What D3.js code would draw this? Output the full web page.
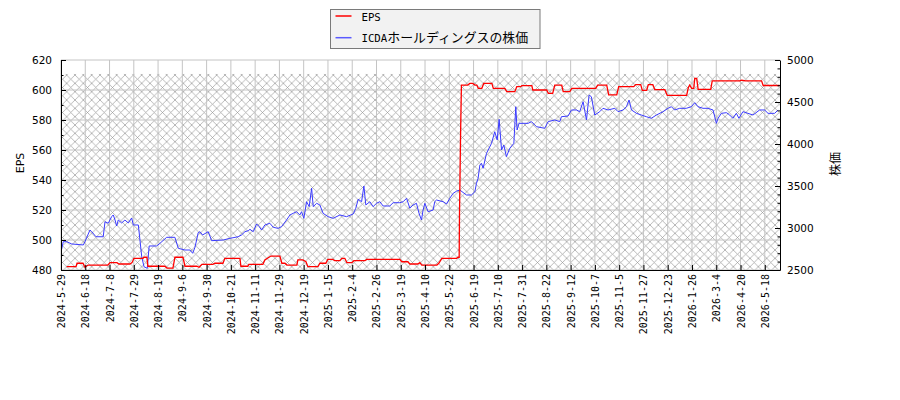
<!DOCTYPE html>
<html>
<head>
<meta charset="utf-8">
<script src="https://cdn.jsdelivr.net/npm/d3@7"></script>
<style>
  body { margin: 0; background: #fff; }
</style>
</head>
<body>
<div id="chart"></div>
<script>
// x tick labels, one every 15 trading days
const tickLabels = ["2024-5-29","2024-6-18","2024-7-8","2024-7-29","2024-8-19","2024-9-6","2024-9-30",
  "2024-10-21","2024-11-11","2024-11-29","2024-12-19","2025-1-15","2025-2-4","2025-2-26","2025-3-19",
  "2025-4-10","2025-5-22","2025-6-19","2025-7-10","2025-7-31","2025-8-22","2025-9-12","2025-10-7",
  "2025-11-5","2025-11-27","2025-12-23","2026-1-26","2026-3-4","2026-4-20","2026-5-18"];
const daysPerTick = 15;
const lastDay = 444.4;

// EPS (left axis), trading-day index and value
const epsDays = [3.5,9.3,9.9,13.6,14.8,16.7,29,30.3,34.6,35.8,42.6,43.9,45.1,50.7,51.3,53.1,53.7,64.2,65.5,69.2,
  70.4,75.4,76.6,84,85.3,87.1,93.9,95.1,100.1,101.3,110.6,111.2,115.5,116.1,124.8,126,129.7,135.3,136.5,138.4,
  139.6,145.8,146.4,149.5,151.4,152.6,158.8,160,163.7,164.9,168,169.2,172.4,173.6,175.4,176.7,179.8,181,187.8,
  189,209.4,210.7,214.4,215.6,220.5,221.8,223,232.3,233.5,235.4,244.6,245.3,246.1,246.3,247,247.5,251.4,252.7,
  254.5,255.8,257,257.9,260.1,261.3,266.3,267.2,274.3,275.5,280.5,281.7,284.2,284.8,291,291.6,300.2,301.2,303.9,
  305.2,309.5,310.4,314.5,315.7,330.5,331.7,337.3,338.5,343.5,344.7,354,355.2,358.3,359.3,362,363,365.8,367,
  373.2,374.7,386.7,387.7,388.6,389.8,391.1,391.7,392.9,393.8,401.6,402.5,419.5,420.7,423.2,433,434,444.2];
const epsValues = [482.2,482.2,484.5,484.5,481.8,483.3,483.3,484.9,484.9,484,484,484.9,487.8,487.8,488.5,488.5,
  482.5,482.5,481.3,481.3,488.5,488.5,482.5,482.5,481.8,483.8,483.8,484.5,484.5,487.8,487.8,482.5,482.5,483.8,
  483.8,486.7,489.3,489.3,484.5,484.5,483.3,483.3,486.7,486.7,485.5,482.2,482.2,484.5,484.5,487.1,487.1,486.2,
  486.2,487.8,487.8,484.9,484.9,486.2,486.2,487.1,487.1,485.5,485.5,484,484,484.9,483.3,483.3,484.5,487.8,487.8,
  488.5,488.5,517,573,603.3,603.3,604.4,604.4,603.3,603.3,601.1,601.1,604.4,604.4,601.1,601.1,598.9,598.9,602.2,
  602.2,602.9,602.9,600,600,597.8,597.8,603.3,603.3,598.9,598.9,601.1,601.1,603.3,603.3,596.7,596.7,602.2,602.2,
  603.6,603.6,599.7,599.7,603.6,603.6,600.2,600.2,596.4,596.4,601.5,603.3,601.1,601.1,607.8,607.8,600.4,600.4,
  606.1,606.1,606.5,606.1,606.1,603,603];

// share price (right axis), trading-day index and value
const priceDays = [0.4,1.4,3.5,6.6,13.8,14.8,17.9,19,21.6,26.1,27.2,29.2,31.3,32.3,33.4,34.4,35.4,37.5,39.5,41.6,
  43.7,44.7,47.8,48.8,49.9,51.3,53.3,54.5,59.1,61.2,65.3,70.4,72.5,76.6,79.7,81.4,82.8,84.8,85.9,87.5,91,93.1,
  100.3,104.4,109.5,111.6,113.7,115.7,116.8,118.8,120.9,122.5,124,126,129.1,131.2,134.2,136.3,139.4,141.5,143.5,
  145.6,147.6,148.7,150.1,151.8,153.4,154.9,155.9,158,160,162,165.1,168.2,172.4,176.5,180.6,182.2,183.7,185.8,
  187.2,188.4,190.9,192.9,195,197.1,199.1,203.2,205.3,209.4,211.5,213.6,215.6,217.6,219.7,221.3,222.8,223.8,
  224.9,226.9,230,231,232.1,236.2,238.3,240.3,242.4,244.6,246.5,250.6,253.7,255.8,256.8,257.8,258.9,259.9,260.9,
  263,266.1,268.1,269.6,270.8,272.3,273.7,275.3,277.4,279.9,281.1,281.9,283.1,285.6,288.7,290.8,293.9,299,301.1,
  305.2,308.3,309.3,313.4,315.5,318.6,320.6,322.7,324.8,326.4,327.8,329.9,333,335,338.1,342.3,344.3,347.4,349.5,
  351.1,352.6,355.7,358.7,361.8,364.9,368,372.1,375.2,377.3,379.3,382.4,386.5,389.6,391.7,393.7,396.8,399.9,403,
  405.1,406.1,408.2,411.3,413.3,415.3,417.4,419,421.5,424.6,427.7,431.8,434.9,437,441.1,443.2];
const priceValues = [2746,2837,2837,2810,2798,2837,2976,2956,2896,2896,3075,3056,3135,3155,3095,3024,3095,3060,
  3095,3060,3119,3036,3036,2857,2658,2539,2520,2786,2786,2818,2889,2889,2758,2738,2738,2699,2770,2944,2956,2917,
  2956,2849,2857,2877,2896,2917,2956,2968,2984,2956,3048,3016,2976,3036,3056,3008,2996,3016,3095,3155,3175,3194,
  3155,3194,3115,3313,3254,3473,3254,3294,3274,3175,3135,3115,3155,3135,3167,3235,3342,3313,3500,3274,3313,3254,
  3294,3313,3262,3262,3301,3301,3313,3354,3235,3274,3294,3175,3095,3214,3294,3194,3214,3313,3333,3313,3286,3354,
  3413,3440,3452,3393,3393,3432,3532,3592,3750,3770,3711,3889,4008,4146,4048,4294,3929,3988,3849,3949,4008,4444,
  4167,4246,4246,4246,4266,4206,4187,4266,4286,4266,4325,4333,4405,4405,4385,4504,4286,4583,4563,4345,4385,4425,
  4405,4425,4385,4405,4444,4524,4405,4365,4345,4325,4306,4345,4385,4425,4444,4405,4425,4425,4444,4492,4444,4425,
  4425,4405,4246,4306,4365,4373,4345,4306,4365,4306,4385,4365,4345,4405,4405,4365,4365,4405];

const hatchTop = 610.7;

function drawChart(containerId) {
  const margin = { top: 60, right: 120, bottom: 130, left: 61 },
        width = 900 - margin.left - margin.right,
        height = 400 - margin.top - margin.bottom;

  const root = d3.select(`#${containerId}`)
      .append("svg")
          .attr("width", 900)
          .attr("height", 400);

  // cross hatch, anchored to the page origin
  const step = 100 / 12;
  root.append("defs").append("pattern")
      .attr("id", "hatch")
      .attr("patternUnits", "userSpaceOnUse")
      .attr("x", -margin.left)
      .attr("y", -margin.top)
      .attr("width", step)
      .attr("height", step)
    .append("path")
      .attr("d", `M0,0L${step},${step}M${step},0L0,${step}`)
      .attr("stroke", "#9a9a9a")
      .attr("stroke-width", 0.7)
      .attr("fill", "none");

  const svg = root.append("g")
      .attr("transform", `translate(${margin.left},${margin.top})`);

  const x = d3.scaleLinear().domain([0, lastDay]).range([0, width]);
  const yL = d3.scaleLinear().domain([480, 620]).range([height, 0]);
  const yR = d3.scaleLinear().domain([2500, 5000]).range([height, 0]);
  const tickDays = tickLabels.map((d, i) => i * daysPerTick);

  svg.append("rect")
      .attr("x", 0)
      .attr("y", yL(hatchTop))
      .attr("width", width)
      .attr("height", height - yL(hatchTop))
      .attr("fill", "url(#hatch)");

  // grid
  svg.append("g").selectAll("line")
      .data(d3.range(480, 621, 20))
      .join("line")
          .attr("x1", 0).attr("x2", width)
          .attr("y1", d => yL(d)).attr("y2", d => yL(d))
          .attr("stroke", "#c4c4c4").attr("stroke-width", 1);
  svg.append("g").selectAll("line")
      .data(tickDays)
      .join("line")
          .attr("x1", d => x(d)).attr("x2", d => x(d))
          .attr("y1", 0).attr("y2", height)
          .attr("stroke", "#c4c4c4").attr("stroke-width", 1);

  // lines
  svg.append("path")
      .datum(priceDays.map((d, i) => [d, priceValues[i]]))
      .attr("fill", "none")
      .attr("stroke", "#3a3aff")
      .attr("stroke-width", 1)
      .attr("d", d3.line().x(d => x(d[0])).y(d => yR(d[1])));

  svg.append("path")
      .datum(epsDays.map((d, i) => [d, epsValues[i]]))
      .attr("fill", "none")
      .attr("stroke", "#ff0000")
      .attr("stroke-width", 1.3)
      .attr("d", d3.line().x(d => x(d[0])).y(d => yL(d[1])));

  // axes
  const tickFont = "DejaVu Sans, sans-serif";

  const xAxis = svg.append("g")
      .attr("transform", `translate(0,${height})`)
      .call(d3.axisBottom(x).tickValues(tickDays)
          .tickFormat((d, i) => tickLabels[i]).tickSize(-5).tickSizeOuter(0));
  xAxis.selectAll("text")
      .attr("font-family", "DejaVu Sans Mono, monospace")
      .attr("font-size", 10)
      .attr("fill", "#000")
      .attr("text-anchor", "end")
      .attr("transform", "rotate(-90)")
      .attr("x", -4)
      .attr("y", 0)
      .attr("dy", "0.35em");

  const yAxisL = svg.append("g")
      .call(d3.axisLeft(yL).tickValues(d3.range(480, 621, 20))
          .tickFormat(d3.format("d"))
          .tickSize(-5).tickSizeOuter(0).tickPadding(9));
  yAxisL.selectAll("text").attr("font-family", tickFont).attr("font-size", 10.5).attr("fill", "#000");

  svg.append("g")
      .call(d3.axisLeft(yL).tickValues(d3.range(490, 620, 20))
          .tickSize(-2.5).tickSizeOuter(0).tickFormat(""))
      .select(".domain").remove();

  const yAxisR = svg.append("g")
      .attr("transform", `translate(${width},0)`)
      .call(d3.axisRight(yR).tickValues(d3.range(2500, 5001, 500))
          .tickFormat(d3.format("d"))
          .tickSize(-5).tickSizeOuter(0).tickPadding(7));
  yAxisR.selectAll("text").attr("font-family", tickFont).attr("font-size", 10.5).attr("fill", "#000");

  svg.append("g")
      .attr("transform", `translate(${width},0)`)
      .call(d3.axisRight(yR).tickValues(d3.range(2600, 5000, 100).filter(v => v % 500 !== 0))
          .tickSize(-2.5).tickSizeOuter(0).tickFormat(""))
      .select(".domain").remove();

  // axis titles
  svg.append("text")
      .attr("transform", "rotate(-90)")
      .attr("x", -103)
      .attr("y", -37)
      .attr("text-anchor", "middle")
      .attr("font-family", tickFont)
      .attr("font-size", 11)
      .text("EPS");

  svg.append("text")
      .attr("transform", "rotate(-90)")
      .attr("x", -104)
      .attr("y", width + 60)
      .attr("text-anchor", "middle")
      .attr("font-family", "Noto Sans CJK JP, sans-serif")
      .attr("font-size", 12)
      .text("株価");

  // legend
  const legend = root.append("g").attr("transform", "translate(330.5,9.5)");
  legend.append("rect")
      .attr("width", 209.5).attr("height", 39)
      .attr("fill", "#f2f2f2").attr("stroke", "#7a7a7a").attr("stroke-width", 1);
  const items = [
    { color: "#ff0000", latin: "EPS", jp: "" },
    { color: "#5a5aff", latin: "ICDA", jp: "ホールディングスの株価" }
  ];
  items.forEach((item, i) => {
    const cy = 6.5 + i * 21.7;
    legend.append("line")
        .attr("x1", 5).attr("x2", 21)
        .attr("y1", cy).attr("y2", cy)
        .attr("stroke", item.color).attr("stroke-width", 1.5);
    const t = legend.append("text")
        .attr("x", 31)
        .attr("y", cy + 4.5);
    t.append("tspan")
        .attr("font-family", "DejaVu Sans Mono, monospace")
        .attr("font-size", 10.7)
        .text(item.latin);
    if (item.jp) {
      t.append("tspan")
          .attr("font-family", "Noto Sans CJK JP, sans-serif")
          .attr("font-size", 12.9)
          .text(item.jp);
    }
  });
}

document.addEventListener("DOMContentLoaded", function () {
  drawChart("chart");
});
</script>
</body>
</html>
